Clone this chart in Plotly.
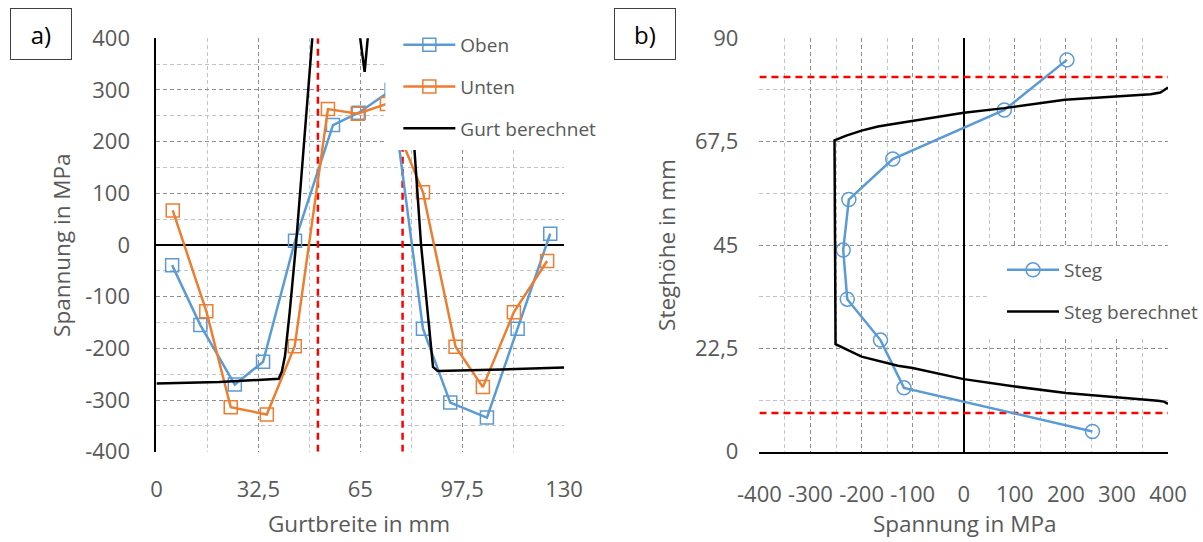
import plotly.graph_objects as go

# ---------------- data: panel a) Gurt ----------------
oben_x = [5, 14, 25, 34, 44.2, 56.3, 64.5, 75, 85, 93.7, 105.4, 115.2, 125.6]
oben_y = [-39, -155, -270, -226, 8, 232, 256, 300, -162, -305, -334, -162, 22]
unten_x = [5.2, 15.9, 23.7, 35.2, 44.1, 54.7, 64.2, 73.5, 85, 95.4, 104.1, 114, 124.6]
unten_y = [67, -128, -314, -328, -196, 263, 254, 273, 102, -197, -275, -130, -31]
gurt_x = [0, 20, 39, 40, 41, 42.5, 44.5, 47, 49.7, 52, 58, 62.8, 66.4, 68.9, 72, 77, 79.3, 82.3, 84.4, 88.2, 89.7, 110, 120, 130]
gurt_y = [-268, -265, -259, -245, -215, -130, 0, 200, 400, 650, 800, 500, 335, 500, 700, 600, 400, 183, 0, -236, -244, -241, -239, -237]
flange_edges = [51.5, 78.5]
a_xtickvals = [0, 32.5, 65, 97.5, 130]
a_xticktext = ["0", "32,5", "65", "97,5", "130"]
a_ytickvals = [-400, -300, -200, -100, 0, 100, 200, 300, 400]
a_yticktext = ["-400", "-300", "-200", "-100", "0", "100", "200", "300", "400"]

# ---------------- data: panel b) Steg ----------------
steg_x = [252, -117, -163, -228, -236, -225, -139, 79.5, 202]
steg_y = [4.4, 13.9, 24.3, 33.2, 43.9, 54.9, 63.7, 74.4, 85.3]
stegb_x = [400, 392, 380, 300, 200, 100, 0, -100, -129, -200, -251, -253, -230, -200, -168, -129, 0, 79.5, 198, 366, 385, 400]
stegb_y = [10.4, 10.9, 11.1, 11.8, 12.8, 14.2, 15.8, 18.2, 18.7, 20.7, 23.4, 67.8, 68.8, 69.9, 70.8, 71.5, 73.8, 74.8, 76.6, 77.8, 78.2, 79.3]
web_edges = [8.4, 81.6]
b_xtickvals = [-400, -300, -200, -100, 0, 100, 200, 300, 400]
b_xticktext = ["-400", "-300", "-200", "-100", "0", "100", "200", "300", "400"]
b_ytickvals = [0, 22.5, 45, 67.5, 90]
b_yticktext = ["0", "22,5", "45", "67,5", "90"]

W, H = 1203, 542
FONT = "Open Sans"
GRAY = "#595959"
BLUE = "#5B9BD5"
ORANGE = "#ED7D31"
MAJ = "#8f8f8f"
MIN = "#c4c4c4"
DASH = "4px,3px"

def px_x(p):
    return p / W

def px_y(p):
    return 1 - p / H

fig = go.Figure()

for xe in flange_edges:
    fig.add_trace(go.Scatter(x=[xe, xe], y=[-400, 400], mode="lines",
                             line=dict(color="red", width=2.5, dash="7px,5px"),
                             showlegend=False, hoverinfo="skip", xaxis="x", yaxis="y"))
fig.add_trace(go.Scatter(x=oben_x, y=oben_y, name="Oben", mode="lines+markers",
                         line=dict(color=BLUE, width=2.5),
                         marker=dict(symbol="square-open", size=13, color=BLUE, line=dict(width=1.5)),
                         legend="legend", legendgroup="g1", xaxis="x", yaxis="y"))
fig.add_trace(go.Scatter(x=unten_x, y=unten_y, name="Unten", mode="lines+markers",
                         line=dict(color=ORANGE, width=2.5),
                         marker=dict(symbol="square-open", size=13, color=ORANGE, line=dict(width=1.5)),
                         legend="legend", legendgroup="g2", xaxis="x", yaxis="y"))
fig.add_trace(go.Scatter(x=gurt_x, y=gurt_y, name="Gurt berechnet", mode="lines",
                         line=dict(color="black", width=2.5),
                         legend="legend", legendgroup="g3", xaxis="x", yaxis="y"))

for ye in web_edges:
    fig.add_trace(go.Scatter(x=[-400, 400], y=[ye, ye], mode="lines",
                             line=dict(color="red", width=2.5, dash="7px,5px"),
                             showlegend=False, hoverinfo="skip", xaxis="x2", yaxis="y2"))
fig.add_trace(go.Scatter(x=steg_x, y=steg_y, name="Steg", mode="lines+markers",
                         line=dict(color=BLUE, width=2.5),
                         marker=dict(symbol="circle-open", size=14, color=BLUE, line=dict(width=1.5)),
                         legend="legend2", legendgroup="h1", xaxis="x2", yaxis="y2"))
fig.add_trace(go.Scatter(x=stegb_x, y=stegb_y, name="Steg berechnet", mode="lines",
                         line=dict(color="black", width=2.5),
                         legend="legend2", legendgroup="h2", xaxis="x2", yaxis="y2"))

tickfont = dict(family=FONT, size=22, color=GRAY)
ydom = [px_y(451.7), px_y(38.3)]
grid = dict(showgrid=True, gridcolor=MAJ, griddash=DASH, gridwidth=1, ticks="", automargin=False)

fig.update_layout(
    width=W, height=H,
    margin=dict(l=0, r=0, t=0, b=0),
    paper_bgcolor="white", plot_bgcolor="white",
    font=dict(family=FONT, color=GRAY),
    xaxis=dict(domain=[px_x(156.7), px_x(565)], range=[0, 130],
               tickvals=a_xtickvals, ticktext=a_xticktext, tickfont=tickfont, ticklabelstandoff=22,
               minor=dict(dtick=16.25, tick0=0, showgrid=True, gridcolor=MIN, griddash=DASH, gridwidth=1),
               zeroline=False, showline=False, anchor="y", **grid),
    yaxis=dict(domain=ydom, range=[-400, 400],
               tickvals=a_ytickvals, ticktext=a_yticktext, tickfont=tickfont, ticklabelstandoff=20,
               minor=dict(dtick=50, tick0=0, showgrid=True, gridcolor=MIN, griddash=DASH, gridwidth=1),
               zeroline=True, zerolinecolor="black", zerolinewidth=2,
               showline=True, linecolor="black", linewidth=2, anchor="x", **grid),
    xaxis2=dict(domain=[px_x(760.7), px_x(1170)], range=[-400, 400],
                tickvals=b_xtickvals, ticktext=b_xticktext, tickfont=tickfont, ticklabelstandoff=22,
                minor=dict(dtick=50, tick0=0, showgrid=True, gridcolor=MIN, griddash=DASH, gridwidth=1),
                zeroline=True, zerolinecolor="black", zerolinewidth=2,
                showline=True, linecolor="black", linewidth=2, anchor="y2", **grid),
    yaxis2=dict(domain=ydom, range=[0, 90],
                tickvals=b_ytickvals, ticktext=b_yticktext, tickfont=tickfont, ticklabelstandoff=20,
                minor=dict(dtick=11.25, tick0=0, showgrid=True, gridcolor=MIN, griddash=DASH, gridwidth=1),
                zeroline=False, showline=False, anchor="x2", **grid),
    legend=dict(x=px_x(399), y=px_y(26), xanchor="left", yanchor="top",
                bgcolor="white", borderwidth=0, itemwidth=52,
                font=dict(family=FONT, size=19, color=GRAY),
                traceorder="grouped", tracegroupgap=14),
    legend2=dict(x=px_x(1004), y=px_y(251), xanchor="left", yanchor="top",
                 bgcolor="white", borderwidth=0, itemwidth=52,
                 font=dict(family=FONT, size=19, color=GRAY),
                 traceorder="grouped", tracegroupgap=14),
    showlegend=True,
    shapes=[
        dict(type="rect", xref="paper", yref="paper", layer="above",
             x0=px_x(386), x1=px_x(622), y0=px_y(150), y1=px_y(26),
             fillcolor="white", line=dict(width=0)),
        dict(type="rect", xref="paper", yref="paper", layer="above",
             x0=px_x(990), x1=px_x(1203), y0=px_y(337), y1=px_y(248),
             fillcolor="white", line=dict(width=0)),
    ],
)

ann_font = dict(family=FONT, size=22.5, color=GRAY)
annotations = [
    dict(text="Spannung in MPa", x=px_x(61), y=px_y(245), textangle=-90, font=ann_font),
    dict(text="Gurtbreite in mm", x=px_x(360), y=px_y(523), font=ann_font),
    dict(text="Steghöhe in mm", x=px_x(667), y=px_y(245), textangle=-90, font=ann_font),
    dict(text="Spannung in MPa", x=px_x(966), y=px_y(523), font=ann_font),
    dict(text="a)", x=px_x(40.6), y=px_y(34.5), width=58, height=48,
         bordercolor="#404040", borderwidth=1, font=dict(family=FONT, size=24, color="black")),
    dict(text="b)", x=px_x(645.6), y=px_y(34.5), width=58, height=48,
         bordercolor="#404040", borderwidth=1, font=dict(family=FONT, size=24, color="black")),
]
for a in annotations:
    a.update(xref="paper", yref="paper", showarrow=False, xanchor="center", yanchor="middle")
fig.update_layout(annotations=annotations)

fig.write_html("out.html", config={"displayModeBar": False},
               post_script="document.body.style.margin='0px';document.body.style.overflow='hidden';")
